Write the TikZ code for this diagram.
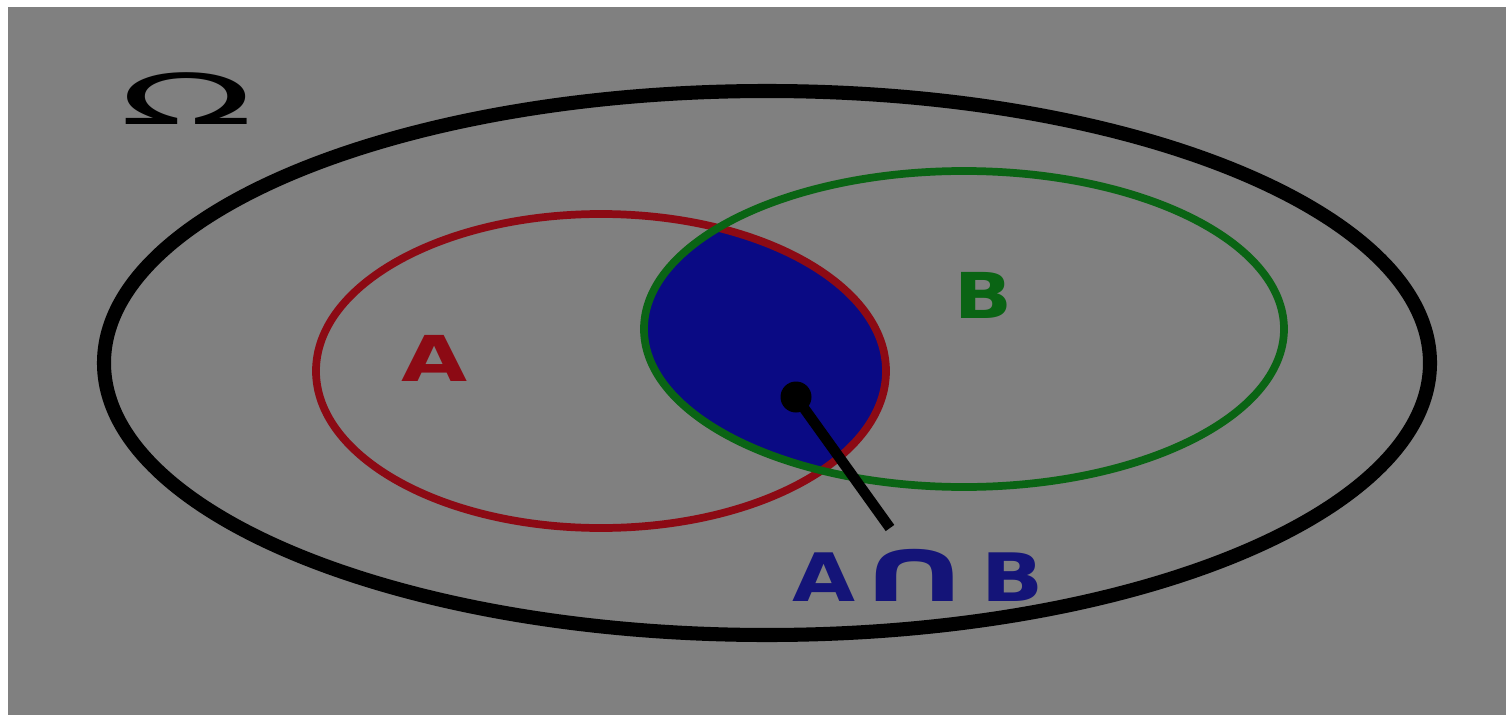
\documentclass[tikz,border=0pt]{standalone}
\usepackage{fontspec}
\setmainfont{DejaVu Sans}
\usepackage{graphicx}
\usepackage{tikz}
\usetikzlibrary{positioning, calc}

\definecolor{bggray}{HTML}{808080}
\definecolor{setred}{HTML}{8C0A14}
\definecolor{setgreen}{HTML}{0A6414}
\definecolor{capblue}{HTML}{0A0A84}
\definecolor{txtblue}{HTML}{141478}

\begin{document}
\begin{tikzpicture}[
    universe/.style={draw=black, line width=4pt},
    set/.style={line width=2.2pt},
    lbl/.style={font=\fontsize{18}{20}\selectfont\bfseries, inner sep=1pt},
    dot/.style={circle, fill=black, inner sep=0pt, minimum size=0.31cm}
]

% frame
\fill[white] (0,0) rectangle (15.06,7.15);
\fill[bggray] (0.08,0) rectangle (15.06,7.08);
\useasboundingbox (0,0) rectangle (15.06,7.15);

\draw[universe] (7.67,3.52) ellipse [x radius=6.63, y radius=2.72];

% intersection
\begin{scope}
  \clip (6.01,3.44) ellipse [x radius=2.85, y radius=1.57];
  \fill[capblue] (9.64,3.86) ellipse [x radius=3.20, y radius=1.58];
\end{scope}

\draw[set, setred] (6.01,3.44) ellipse [x radius=2.85, y radius=1.57];
\draw[set, setgreen] (9.64,3.86) ellipse [x radius=3.20, y radius=1.58];

\node[lbl, font=\fontsize{20}{22}\selectfont] (omega) at (1.87,6.16) {\scalebox{2.5}[1]{Ω}};
\node[lbl, text=setred] (setA) at (4.35,3.57) {\scalebox{1.35}[1]{A}};
\node[lbl, text=setgreen] (setB) at (9.83,4.20) {\scalebox{1.2}[1]{B}};
\node[lbl, text=txtblue, font=\fontsize{19}{21}\selectfont\bfseries] (cap) at (9.18,1.40)
  {\scalebox{1.22}[1]{A\kern-0.5pt\scalebox{1.85}[1.35]{∩}\kern1.5ptB}};

\node[dot] (pt) at (7.96,3.18) {};
\coordinate (tip) at (8.90,1.87);
\draw[line width=3pt] (pt.center) -- (tip);

\end{tikzpicture}
\end{document}
